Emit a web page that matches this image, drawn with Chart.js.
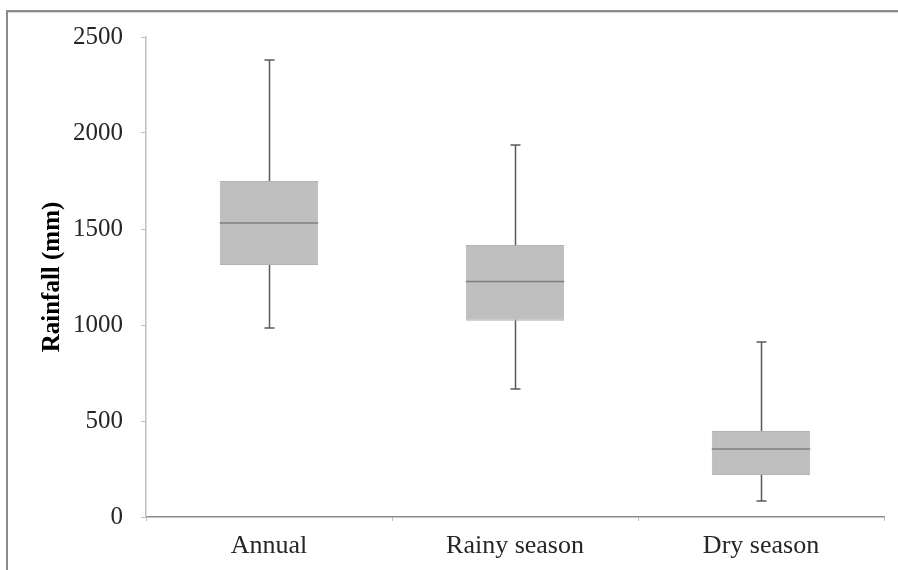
<!DOCTYPE html>
<html>
<head>
<meta charset="utf-8">
<script src="https://cdn.jsdelivr.net/npm/chart.js@4/dist/chart.umd.min.js"></script>
<style>
  html, body { margin: 0; padding: 0; background: #fff; }
  #wrap { width: 898px; height: 570px; position: relative; }
</style>
</head>
<body>
<div id="wrap"><canvas id="rainfall_box"></canvas></div>
<script>
  "use strict";

  var categories = ["Annual", "Rainy season", "Dry season"];
  var whiskerMin = [985, 667, 83];
  var quartile1 = [1312, 1022, 219];
  var median = [1531, 1226, 354];
  var quartile3 = [1750, 1417, 448];
  var whiskerMax = [2380, 1937, 911];
  var yTicks = [0, 500, 1000, 1500, 2000, 2500];

  // figure frame (top and left edge of the scanned figure)
  var framePlugin = {
    id: "frame",
    beforeDraw: function(chart) {
      var ctx = chart.ctx;
      ctx.save();
      ctx.fillStyle = "#8a8a8a";
      ctx.fillRect(6, 10, 2, chart.height - 10);
      ctx.fillRect(6, 10, chart.width - 6, 2);
      ctx.fillStyle = "#d9d9d9";
      ctx.fillRect(8, 12, chart.width - 8, 1);
      ctx.restore();
    },
  };

  // whiskers behind the boxes, median lines on top
  var boxPlugin = {
    id: "boxplot",
    beforeDatasetsDraw: function(chart) {
      var ctx = chart.ctx;
      var y = chart.scales.y;
      var meta = chart.getDatasetMeta(0);
      ctx.save();
      ctx.strokeStyle = "#595959";
      ctx.lineWidth = 1.5;
      meta.data.forEach(function(bar, i) {
        var x = Math.round(bar.x) + 0.5;
        var top = y.getPixelForValue(whiskerMax[i]);
        var bottom = y.getPixelForValue(whiskerMin[i]);
        ctx.beginPath();
        ctx.moveTo(x, top);
        ctx.lineTo(x, bottom);
        ctx.moveTo(x - 5, top);
        ctx.lineTo(x + 5, top);
        ctx.moveTo(x - 5, bottom);
        ctx.lineTo(x + 5, bottom);
        ctx.stroke();
      });
      ctx.restore();
    },
    afterDatasetsDraw: function(chart) {
      var ctx = chart.ctx;
      var y = chart.scales.y;
      var meta = chart.getDatasetMeta(0);
      ctx.save();
      ctx.strokeStyle = "#7f7f7f";
      ctx.lineWidth = 1.5;
      meta.data.forEach(function(bar, i) {
        var py = y.getPixelForValue(median[i]);
        ctx.beginPath();
        ctx.moveTo(bar.x - bar.width / 2, py);
        ctx.lineTo(bar.x + bar.width / 2, py);
        ctx.stroke();
      });
      ctx.restore();
    },
  };

  var boxData = categories.map(function(c, i) {
    return [quartile1[i], quartile3[i]];
  });

  var ctx = document.getElementById("rainfall_box").getContext("2d");

  window.myBox = new Chart(ctx, {
    type: "bar",
    data: {
      labels: categories,
      datasets: [
        {
          label: "Rainfall",
          data: boxData,
          backgroundColor: "#bfbfbf",
          borderColor: "#b3b3b3",
          borderWidth: 1,
          borderSkipped: false,
          barPercentage: 0.4,
          categoryPercentage: 1,
        },
      ],
    },
    plugins: [framePlugin, boxPlugin],
    options: {
      responsive: true,
      maintainAspectRatio: false,
      animation: false,
      layout: {
        padding: { left: 0, top: 37, right: 14, bottom: 0 },
      },
      plugins: {
        legend: { display: false },
        tooltip: { enabled: false },
      },
      scales: {
        x: {
          offset: true,
          afterFit: function(scale) {
            scale.height = 53;
          },
          grid: {
            offset: true,
            drawOnChartArea: false,
            drawTicks: true,
            tickLength: 4,
            color: "#bfbfbf",
          },
          border: { color: "#8c8c8c", width: 1.5 },
          ticks: {
            color: "#262626",
            padding: 10,
            font: { family: "Liberation Serif", size: 26 },
          },
        },
        y: {
          min: 0,
          max: 2500,
          afterFit: function(scale) {
            scale.width = 146;
          },
          afterBuildTicks: function(scale) {
            scale.ticks = yTicks.map(function(v) {
              return { value: v };
            });
          },
          grid: {
            drawOnChartArea: false,
            drawTicks: true,
            tickLength: 5,
            color: "#bfbfbf",
          },
          border: { color: "#bfbfbf", width: 1.5 },
          ticks: {
            color: "#262626",
            padding: 18,
            font: { family: "Liberation Serif", size: 25 },
            callback: function(value) {
              return String(value);
            },
          },
          title: {
            display: true,
            text: "Rainfall (mm)",
            color: "#000",
            padding: { top: 38, bottom: 0 },
            font: { family: "Liberation Serif", size: 25, weight: "bold" },
          },
        },
      },
    },
  });
</script>
</body>
</html>
